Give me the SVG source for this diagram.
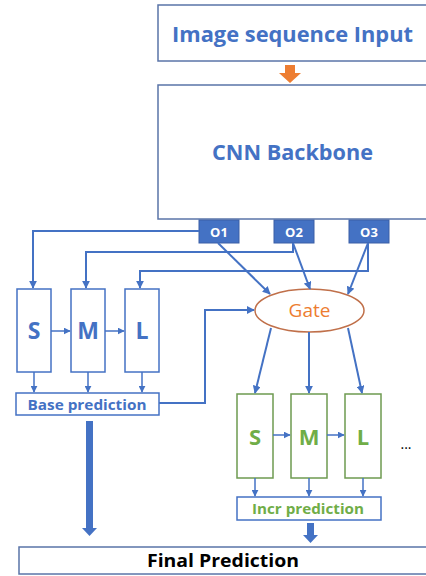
<svg xmlns="http://www.w3.org/2000/svg" width="426" height="576" viewBox="0 0 426 576">
<defs>
<style>
.t{font-family:"Open Sans","Liberation Sans",sans-serif;}
.b{font-weight:bold;}
.blue{fill:#4472C4;}
.green{fill:#70AD47;}
.bigbox{fill:#fff;stroke:#5A74A8;stroke-width:1.5;}
.bbox{fill:#fff;stroke:#4472C4;stroke-width:1.5;}
.gbox{fill:#fff;stroke:#6E9A50;stroke-width:1.5;}
.obox{fill:#4472C4;stroke:#3A5FA6;stroke-width:1;}
.ln{fill:none;stroke:#4472C4;stroke-width:2;}
.thin{fill:none;stroke:#4472C4;stroke-width:1.5;}
</style>
<marker id="ah" viewBox="0 0 10 10" refX="9" refY="5" markerWidth="8" markerHeight="8" markerUnits="userSpaceOnUse" orient="auto">
<path d="M0,0 L10,5 L0,10 z" fill="#4472C4"/>
</marker>
<marker id="ahs" viewBox="0 0 10 10" refX="9" refY="5" markerWidth="7" markerHeight="7" markerUnits="userSpaceOnUse" orient="auto">
<path d="M0,0 L10,5 L0,10 z" fill="#4472C4"/>
</marker>
</defs>

<g id="input">
<rect class="bigbox" x="158" y="5" width="290" height="56"/>
<text class="t b blue" x="292.5" y="42" font-size="21" text-anchor="middle" textLength="241" lengthAdjust="spacingAndGlyphs">Image sequence Input</text>
</g>

<g id="input-arrow">
<path d="M285,65 H295 V73 H301 L290,83 L279,73 H285 Z" fill="#ED7D31"/>
</g>

<g id="cnn">
<rect class="bigbox" x="158" y="85" width="290" height="134"/>
<text class="t b blue" x="292.5" y="160" font-size="21" text-anchor="middle" textLength="161" lengthAdjust="spacingAndGlyphs">CNN Backbone</text>
</g>

<g id="o1">
<rect class="obox" x="199" y="220" width="40" height="23"/>
<text class="t b" x="219" y="237" font-size="13" fill="#fff" text-anchor="middle">O1</text>
</g>
<g id="o2">
<rect class="obox" x="274" y="220" width="40" height="23"/>
<text class="t b" x="294" y="237" font-size="13" fill="#fff" text-anchor="middle">O2</text>
</g>
<g id="o3">
<rect class="obox" x="349" y="220" width="40" height="23"/>
<text class="t b" x="369" y="237" font-size="13" fill="#fff" text-anchor="middle">O3</text>
</g>

<g id="gate">
<ellipse cx="309.5" cy="310.5" rx="54.5" ry="21.5" fill="#fff" stroke="#C0704A" stroke-width="1.5"/>
<text class="t" x="309.5" y="317" font-size="19" fill="#ED7D31" text-anchor="middle">Gate</text>
</g>

<g id="base-s">
<rect class="bbox" x="17" y="289" width="34" height="83"/>
<text class="t b blue" x="34" y="339" font-size="23" text-anchor="middle">S</text>
</g>
<g id="base-m">
<rect class="bbox" x="71" y="289" width="34" height="83"/>
<text class="t b blue" x="88" y="339" font-size="23" text-anchor="middle">M</text>
</g>
<g id="base-l">
<rect class="bbox" x="125" y="289" width="34" height="83"/>
<text class="t b blue" x="142" y="339" font-size="23" text-anchor="middle">L</text>
</g>

<g id="base-pred">
<rect class="bbox" x="16" y="393" width="143" height="22"/>
<text class="t b blue" x="87" y="410" font-size="15" text-anchor="middle" textLength="119" lengthAdjust="spacingAndGlyphs">Base prediction</text>
</g>

<g id="incr-s">
<rect class="gbox" x="237" y="394" width="36" height="84"/>
<text class="t b green" x="255" y="445" font-size="22" text-anchor="middle">S</text>
</g>
<g id="incr-m">
<rect class="gbox" x="291" y="394" width="36" height="84"/>
<text class="t b green" x="309" y="445" font-size="22" text-anchor="middle">M</text>
</g>
<g id="incr-l">
<rect class="gbox" x="345" y="394" width="36" height="84"/>
<text class="t b green" x="363" y="445" font-size="22" text-anchor="middle">L</text>
</g>

<g id="ellipsis">
<text class="t" x="406" y="449" font-size="14" fill="#000" text-anchor="middle">...</text>
</g>

<g id="incr-pred">
<rect class="bbox" x="237" y="497" width="144" height="23"/>
<text class="t b green" x="308" y="514" font-size="15" text-anchor="middle" textLength="112" lengthAdjust="spacingAndGlyphs">Incr prediction</text>
</g>

<g id="final">
<rect class="bigbox" x="19" y="547" width="430" height="27"/>
<text class="t b" x="223" y="567" font-size="17" fill="#000" text-anchor="middle" textLength="152" lengthAdjust="spacingAndGlyphs">Final Prediction</text>
</g>

<g id="connectors">
<path class="ln" d="M199,231 H33 V288" marker-end="url(#ah)"/>
<path class="ln" d="M293,243 V252 H86 V288" marker-end="url(#ah)"/>
<path class="ln" d="M368,243 V271 H140 V288" marker-end="url(#ah)"/>
<path class="ln" d="M218,243 L270,294" marker-end="url(#ah)"/>
<path class="ln" d="M293,243 L310,289" marker-end="url(#ah)"/>
<path class="ln" d="M368,243 L348,294" marker-end="url(#ah)"/>
<path class="ln" d="M159,403 H205 V310 H254" marker-end="url(#ah)"/>
<path class="ln" d="M271,328 L255,393" marker-end="url(#ah)"/>
<path class="ln" d="M309,332 V393" marker-end="url(#ah)"/>
<path class="ln" d="M348,328 L362,393" marker-end="url(#ah)"/>
<path class="thin" d="M51,331 H70" marker-end="url(#ahs)"/>
<path class="thin" d="M105,331 H124" marker-end="url(#ahs)"/>
<path class="thin" d="M273,435 H290" marker-end="url(#ahs)"/>
<path class="thin" d="M327,435 H344" marker-end="url(#ahs)"/>
<path class="thin" d="M34,372 V392" marker-end="url(#ahs)"/>
<path class="thin" d="M88,372 V392" marker-end="url(#ahs)"/>
<path class="thin" d="M142,372 V392" marker-end="url(#ahs)"/>
<path class="thin" d="M255,478 V496" marker-end="url(#ahs)"/>
<path class="thin" d="M309,478 V496" marker-end="url(#ahs)"/>
<path class="thin" d="M363,478 V496" marker-end="url(#ahs)"/>
<path d="M86,421 H93 V528 H97 L89.5,536 L82,528 H86 Z" fill="#4472C4"/>
<path d="M307,523 H314 V535 H318 L310.5,543 L303,535 H307 Z" fill="#4472C4"/>
</g>
</svg>
